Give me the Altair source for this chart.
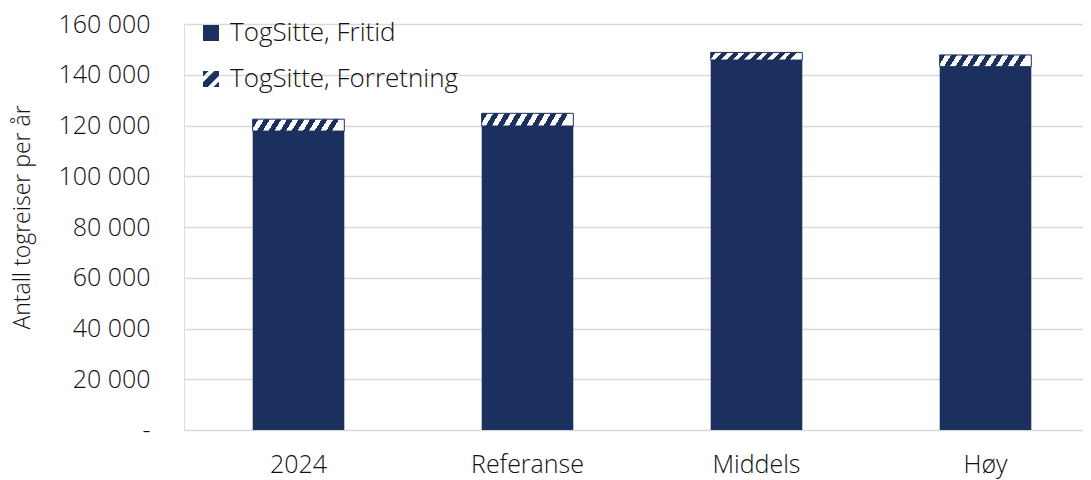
import altair as alt
import pandas as pd

categories = ["2024", "Referanse", "Middels", "Høy"]
fritid = [117800, 119800, 145800, 143200]
forretning = [4700, 5000, 3000, 4600]
series_names = ["TogSitte, Fritid", "TogSitte, Forretning"]
y_ticks = [0, 20000, 40000, 60000, 80000, 100000, 120000, 140000, 160000]

NAVY = "#1B305E"
FONT = "Open Sans"
TXT = "#111111"

df = pd.DataFrame({"cat": categories, "fritid": fritid, "forretning": forretning})
df["total"] = df["fritid"] + df["forretning"]

# striped fill for the "Forretning" segment via a hard-stop linear gradient
stops = []
n = 8
for i in range(n):
    a = i / n
    b = (i + 0.5) / n
    c = (i + 1) / n
    stops += [
        {"offset": a, "color": NAVY},
        {"offset": b, "color": NAVY},
        {"offset": b, "color": "#ffffff"},
        {"offset": c, "color": "#ffffff"},
    ]
stripe_fill = {"gradient": "linear", "x1": 0, "y1": 0, "x2": 1, "y2": 0.08, "stops": stops}

x_enc = alt.X(
    "cat:N",
    sort=categories,
    scale=alt.Scale(range=[0, 916], paddingInner=0.6, paddingOuter=0.3),
    axis=alt.Axis(
        title=None, labelAngle=0, ticks=False, domain=False, grid=False,
        labelFont=FONT, labelFontSize=25, labelFontWeight=300, labelColor=TXT,
        labelPadding=22,
    ),
)

y_axis = alt.Axis(
    title="Antall togreiser per år",
    values=y_ticks,
    labelExpr="datum.value == 0 ? '-\u00a0\u00a0\u00a0\u00a0\u00a0\u00a0' : replace(format(datum.value, ','), ',', ' ')",
    ticks=False, domain=False, grid=True, gridColor="#d9d9d9", gridWidth=1.5,
    labelFont=FONT, labelFontSize=25, labelFontWeight=300, labelColor=TXT,
    labelPadding=34,
    titleFont=FONT, titleFontSize=23, titleFontWeight=300, titleColor=TXT,
    titleAngle=270, titleX=-173, titleY=193, titleAlign="center", titleBaseline="top",
)

base = alt.Chart(df)

bars_fritid = base.mark_bar(color=NAVY).encode(
    x=x_enc,
    y=alt.Y("fritid:Q", scale=alt.Scale(domain=[0, 160000], nice=False), axis=y_axis),
)

bars_forr = base.mark_bar(fill=stripe_fill, stroke=NAVY, strokeWidth=1).encode(
    x=x_enc,
    y=alt.Y("fritid:Q"),
    y2="total:Q",
)

legend_df = pd.DataFrame({"serie": series_names, "cat": [categories[0]] * 2, "v": [0, 0]})
stripe_path = ("M-1,-1L-0.3,-1L-1,-0.3Z M0.4,-1L1,-1L1,-0.4L-0.4,1L-1,1L-1,0.4Z "
               "M1,0.3L1,1L0.3,1Z")

leg = alt.Legend(
    title=None, orient="none", legendX=14, legendY=-4, padding=0,
    symbolSize=256, symbolStrokeWidth=0, symbolOpacity=1, rowPadding=20, labelOffset=6,
    labelFont=FONT, labelFontSize=26, labelFontWeight=300, labelColor=TXT,
    labelLimit=400,
)

legend_layer = alt.Chart(legend_df).transform_filter("datum.v > 1").mark_point(
    filled=True, opacity=1
).encode(
    x=alt.X("cat:N", sort=categories),
    y=alt.Y("v:Q"),
    fill=alt.Fill("serie:N", scale=alt.Scale(domain=series_names, range=[NAVY, NAVY]), legend=leg),
    shape=alt.Shape("serie:N", scale=alt.Scale(domain=series_names, range=["square", stripe_path]), legend=leg),
)

chart = (
    alt.layer(bars_fritid, bars_forr, legend_layer)
    .properties(
        width=899, height=406,
        autosize=alt.AutoSizeParams(type="none"),
        padding={"left": 176, "top": 16, "right": 0, "bottom": 50},
    )
    .configure_view(stroke=None)
    .configure(background="#ffffff")
)

chart.save("out.html", embed_options={"renderer": "svg", "actions": False})
